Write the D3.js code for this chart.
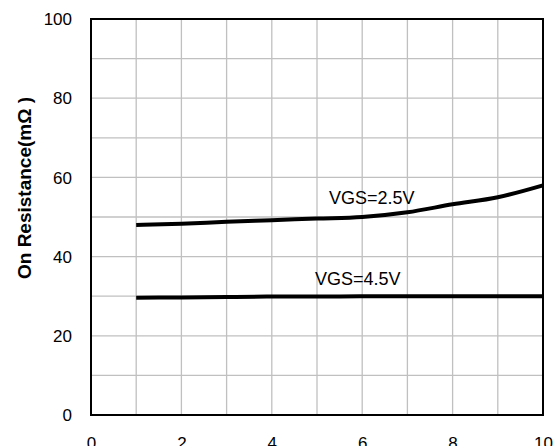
<!DOCTYPE html>
<html>
<head>
<meta charset="utf-8">
<script src="https://cdn.jsdelivr.net/npm/d3@7"></script>
<style>
  html, body { margin: 0; padding: 0; background: #fff; }
  svg { display: block; }
  text { font-family: "Liberation Sans", Arial, sans-serif; fill: #000; }
</style>
</head>
<body>
<svg id="chart" width="560" height="446"></svg>
<script>
// ---- data ----
const currentA = [1, 2, 3, 4, 5, 6, 7, 8, 9, 10];
const vgs25 = [48.0, 48.3, 48.8, 49.2, 49.6, 50.0, 51.2, 53.2, 55.0, 58.0];
const vgs45 = [29.6, 29.7, 29.8, 29.9, 29.9, 30.0, 30.0, 30.0, 30.0, 30.0];
const xTicks = [0, 2, 4, 6, 8, 10];
const yTicks = [0, 20, 40, 60, 80, 100];
const xGrid = [1, 2, 3, 4, 5, 6, 7, 8, 9];
const yGrid = [10, 20, 30, 40, 50, 60, 70, 80, 90];
const seriesLabels = ["VGS=2.5V", "VGS=4.5V"];
const yTitle = "On Resistance(mΩ )";

// ---- layout ----
const mLeft = 91, mRight = 543, mTop = 19, mBottom = 415;
const svg = d3.select("#chart");
const x = d3.scaleLinear().domain([0, 10]).range([mLeft, mRight]);
const y = d3.scaleLinear().domain([0, 100]).range([mBottom, mTop]);

// grid
svg.append("g").selectAll("line").data(xGrid).join("line")
  .attr("x1", d => x(d)).attr("x2", d => x(d))
  .attr("y1", mTop).attr("y2", mBottom)
  .attr("stroke", "#c0c0c0").attr("stroke-width", 1.3);
svg.append("g").selectAll("line").data(yGrid).join("line")
  .attr("x1", mLeft).attr("x2", mRight)
  .attr("y1", d => y(d)).attr("y2", d => y(d))
  .attr("stroke", "#c0c0c0").attr("stroke-width", 1.3);

// frame
svg.append("rect")
  .attr("x", mLeft).attr("y", mTop)
  .attr("width", mRight - mLeft).attr("height", mBottom - mTop)
  .attr("fill", "none").attr("stroke", "#000").attr("stroke-width", 2);

// axes (labels only)
const yAxis = d3.axisLeft(y).tickValues(yTicks).tickSize(0).tickPadding(19);
const gy = svg.append("g").attr("transform", `translate(${mLeft},0)`).call(yAxis);
gy.select(".domain").remove();
gy.selectAll("text").attr("font-size", 17).attr("dy", "0.34em")
  .style("font-family", '"Liberation Sans", Arial, sans-serif');

const xAxis = d3.axisBottom(x).tickValues(xTicks).tickSize(0).tickPadding(22);
const gx = svg.append("g").attr("transform", `translate(0,${mBottom})`).call(xAxis);
gx.select(".domain").remove();
gx.selectAll("text").attr("font-size", 17)
  .style("font-family", '"Liberation Sans", Arial, sans-serif');

// lines
const line = d3.line()
  .x((d, i) => x(currentA[i]))
  .y(d => y(d))
  .curve(d3.curveMonotoneX);

[vgs25, vgs45].forEach(s => {
  svg.append("path").datum(s)
    .attr("d", line)
    .attr("fill", "none")
    .attr("stroke", "#000")
    .attr("stroke-width", 4)
    .attr("stroke-linecap", "butt");
});

// series labels
svg.append("text").attr("x", 329).attr("y", 204).attr("font-size", 18).text(seriesLabels[0]);
svg.append("text").attr("x", 315).attr("y", 285).attr("font-size", 18).text(seriesLabels[1]);

// y title
svg.append("text")
  .attr("transform", `translate(31,188) rotate(-90)`)
  .attr("text-anchor", "middle")
  .attr("font-size", 19)
  .attr("font-weight", "bold")
  .text(yTitle);
</script>
</body>
</html>
